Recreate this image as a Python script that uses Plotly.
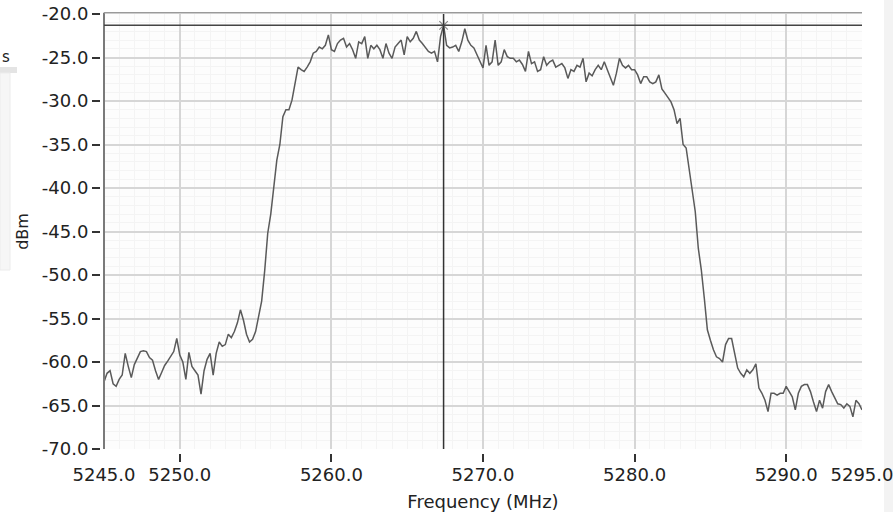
import plotly.graph_objects as go

# ---- data ----
freq_start_mhz = 5245.0
freq_step_mhz = 0.2

level_dbm = [
    -62.3, -61.3, -61.0, -62.5, -62.8, -62.0, -61.5, -59.0, -60.5, -61.8,
    -60.3, -59.6, -58.8, -58.7, -58.8, -59.5, -59.8, -61.0, -62.0, -61.2,
    -60.4, -59.9, -59.3, -58.8, -57.3, -59.2, -60.0, -62.0, -58.9, -60.5,
    -61.0, -61.5, -63.7, -61.0, -59.7, -59.0, -61.5, -59.0, -57.7, -58.2,
    -58.0, -56.8, -57.2, -56.5, -55.5, -54.0, -55.2, -56.8, -57.7, -57.4,
    -56.5, -54.5, -53.0, -49.5,
    -45.2, -43.0, -39.8, -36.8, -35.0, -31.8, -31.0, -31.0, -29.9, -28.0,
    -26.1, -26.4, -26.6, -26.1, -25.5, -24.5, -24.3, -23.8, -24.0, -23.6,
    -22.4, -24.1, -24.3, -23.4, -23.0, -22.8, -23.8, -23.4, -24.1, -25.1,
    -23.2, -23.4, -22.6, -25.1, -23.6, -24.0, -23.6, -24.1, -25.1, -23.4,
    -24.5, -25.1, -23.8, -23.4, -23.0, -24.7, -22.6, -23.2, -22.8, -22.0,
    -23.0, -23.4, -23.8, -24.3, -24.5, -24.3, -25.5, -22.6, -21.3, -23.6,
    -23.9, -23.8, -23.6, -24.3, -23.2, -21.7, -23.0, -23.6, -23.9, -24.7,
    -25.5, -26.2, -23.6, -25.9, -25.5, -23.0, -25.9, -25.5, -24.1, -24.9,
    -25.1, -25.1, -25.5, -25.3, -25.8, -26.6, -24.3, -25.7, -25.5, -26.6,
    -26.4, -24.9, -25.9, -25.5, -25.3, -26.1, -25.9, -25.7, -26.2, -27.4,
    -26.4, -26.6, -25.9, -26.1, -25.1, -27.8, -26.8, -27.1, -26.4, -25.9,
    -26.4, -25.5, -26.4, -27.4, -28.2, -26.8, -25.1, -25.9, -26.2, -25.9,
    -26.4, -26.4, -27.0, -28.0, -27.2, -27.2, -27.8, -28.0, -27.8, -27.0,
    -28.6, -29.1, -29.6,
    -30.1, -31.0, -32.6, -32.0, -35.0, -35.4, -37.9, -39.8, -42.7, -46.9,
    -49.4, -52.7, -56.3, -57.5, -58.6, -59.4, -59.6, -60.0, -58.0, -57.3,
    -57.3, -59.0, -60.7, -61.3, -61.7, -60.9, -61.3, -60.9, -60.2, -63.0,
    -63.6, -64.4, -65.7, -63.6, -63.6, -63.8, -63.6, -63.6, -62.8, -63.4,
    -64.0, -65.5, -63.6, -62.8, -62.6, -62.6, -63.4, -64.6, -65.7, -64.4,
    -65.3, -63.4, -62.6, -63.4, -64.2, -64.8, -64.9, -65.3, -64.8, -65.1,
    -66.3, -64.4, -64.8, -65.5,
]
freq_mhz = [round(freq_start_mhz + freq_step_mhz * i, 1) for i in range(len(level_dbm))]

x_tickvals = [5245, 5250, 5260, 5270, 5280, 5290, 5295]
x_ticktext = ["5245.0", "5250.0", "5260.0", "5270.0", "5280.0", "5290.0", "5295.0"]
x_gridvals = [5250, 5260, 5270, 5280, 5290]
y_tickvals = [-70, -65, -60, -55, -50, -45, -40, -35, -30, -25, -20]
y_ticktext = ["-70.0", "-65.0", "-60.0", "-55.0", "-50.0", "-45.0", "-40.0",
              "-35.0", "-30.0", "-25.0", "-20.0"]

cursor_freq = 5267.4
cursor_level = -21.3

# ---- figure ----
W, H = 893, 512
ML, MR, MT, MB = 100, 31, 14, 50
PW, PH = W - ML - MR, H - MT - MB


def px_x(px):
    return (px - ML) / PW


def px_y(py):
    return (H - MB - py) / PH


font_family = "DejaVu Sans"
txt = "#222222"
major_grid = "#d6d6d6"
minor_grid = "#f4f4f4"

fig = go.Figure()
fig.add_trace(go.Scatter(
    x=freq_mhz, y=level_dbm, mode="lines",
    line=dict(color="#5a5a5a", width=1.5),
    hoverinfo="skip", showlegend=False,
))
fig.add_trace(go.Scatter(
    x=[cursor_freq], y=[cursor_level], mode="markers", xaxis="x2", yaxis="y",
    marker=dict(symbol="asterisk-open", size=10, color="#8a8a8a",
                line=dict(color="#8a8a8a", width=1.2)),
    hoverinfo="skip", showlegend=False,
))

shapes = [
    # left axis line
    dict(type="line", xref="x domain", yref="y domain", x0=0, x1=0, y0=0, y1=1.003,
         line=dict(color="#7a7a7a", width=2)),
    # top border
    dict(type="line", xref="x domain", yref="y domain", x0=0, x1=1, y0=1.003, y1=1.003,
         line=dict(color="#9a9a9a", width=1.5)),
    # cursor lines
    dict(type="line", xref="x", yref="y domain", x0=cursor_freq, x1=cursor_freq, y0=0, y1=1,
         line=dict(color="#333333", width=1.5)),
    dict(type="line", xref="x domain", yref="y", x0=0, x1=1, y0=cursor_level, y1=cursor_level,
         line=dict(color="#444444", width=1.5)),
    # partial UI panel at far left
    dict(type="rect", xref="paper", yref="paper", x0=px_x(0), x1=px_x(17), y0=px_y(73), y1=px_y(67),
         fillcolor="#e4e4e4", line=dict(width=0), layer="below"),
    dict(type="rect", xref="paper", yref="paper", x0=px_x(0), x1=px_x(10), y0=px_y(270), y1=px_y(73),
         fillcolor="#f6f6f6", line=dict(color="#ececec", width=1), layer="below"),
    # strip at far right
    dict(type="rect", xref="paper", yref="paper", x0=px_x(884), x1=px_x(893), y0=px_y(512), y1=px_y(0),
         fillcolor="#f3f3f3", line=dict(width=0), layer="below"),
]

annotations = [
    dict(text="s", xref="paper", yref="paper", x=px_x(0), y=px_y(57), xanchor="left", yanchor="middle",
         showarrow=False, font=dict(family=font_family, size=15, color=txt)),
]

fig.update_layout(
    width=W, height=H,
    margin=dict(l=ML, r=MR, t=MT, b=MB, pad=0, autoexpand=False),
    paper_bgcolor="white", plot_bgcolor="#fdfdfd",
    font=dict(family=font_family, color=txt),
    showlegend=False,
    shapes=shapes, annotations=annotations,
    xaxis=dict(
        domain=[4 / PW, 1], range=[5245, 5295], anchor="free", position=0, automargin=False,
        tickmode="array", tickvals=x_tickvals, ticktext=x_ticktext,
        ticks="inside", ticklen=8, tickwidth=2, tickcolor="#333333",
        ticklabelstandoff=0, ticklabeloverflow="allow",
        showline=False, zeroline=False, showgrid=False,
        minor=dict(tickmode="linear", tick0=5245, dtick=1, showgrid=True,
                   gridcolor=minor_grid, gridwidth=1, ticks=""),
        tickfont=dict(family=font_family, size=18, color=txt),
        title=dict(text="Frequency (MHz)", font=dict(family=font_family, size=18, color=txt), standoff=11),
    ),
    xaxis2=dict(
        domain=[4 / PW, 1], range=[5245, 5295], overlaying="x", anchor="y", automargin=False,
        tickmode="array", tickvals=x_gridvals, showticklabels=False, ticks="",
        showline=False, zeroline=False,
        showgrid=True, gridcolor=major_grid, gridwidth=2,
    ),
    yaxis=dict(
        domain=[13 / PH, 1], range=[-70, -20], anchor="free", position=0, automargin=False,
        tickmode="array", tickvals=y_tickvals, ticktext=y_ticktext,
        ticks="outside", ticklen=8, tickwidth=2, tickcolor="#333333",
        showline=False, zeroline=False,
        showgrid=True, gridcolor=major_grid, gridwidth=2,
        minor=dict(tickmode="linear", tick0=-70, dtick=1, showgrid=True,
                   gridcolor=minor_grid, gridwidth=1, ticks=""),
        tickfont=dict(family=font_family, size=18, color=txt),
        title=dict(text="dBm", font=dict(family=font_family, size=16, color=txt), standoff=8),
    ),
)

fig.write_html("out.html")
